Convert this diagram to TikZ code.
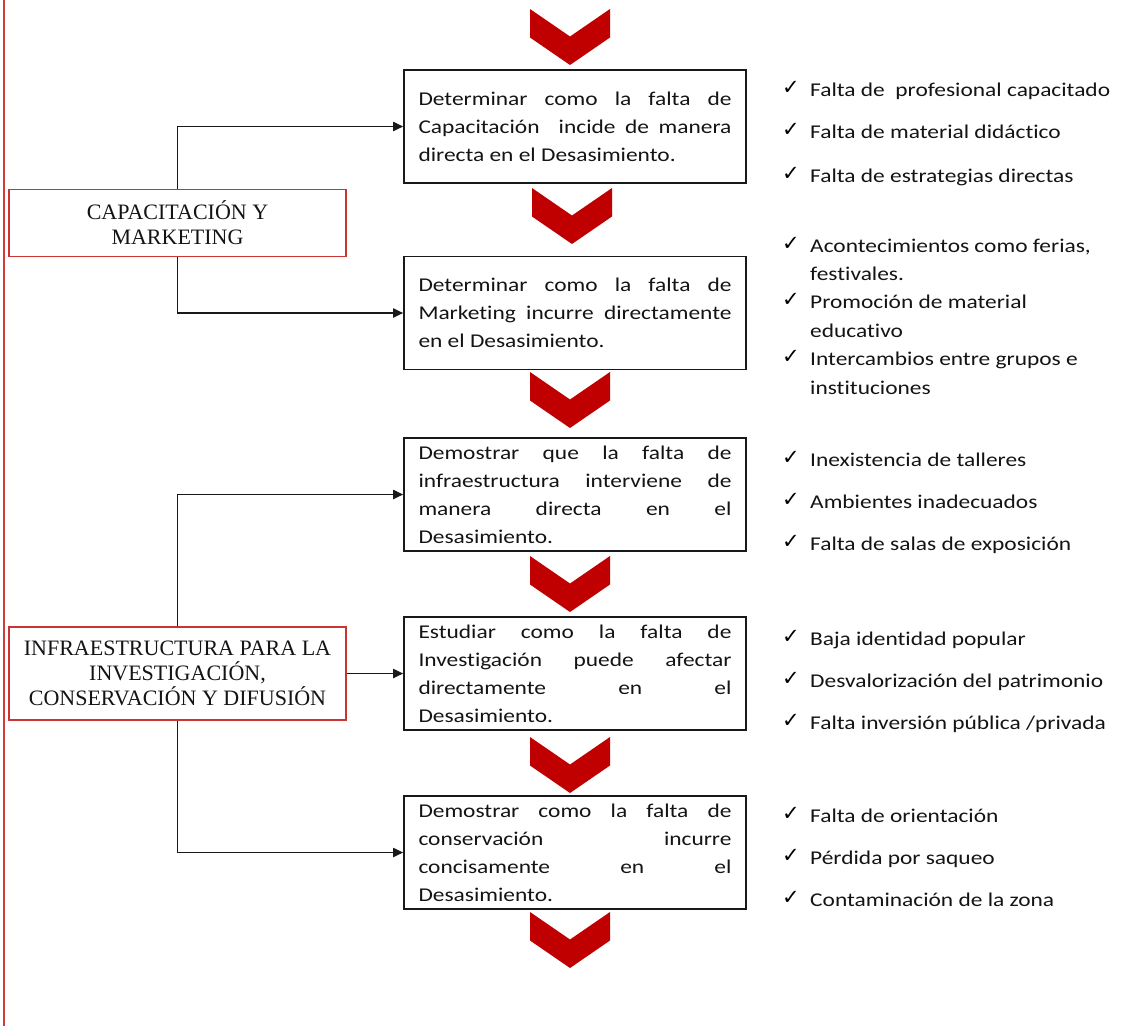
\documentclass[tikz,border=0pt]{standalone}
\usepackage{fontspec}
\usetikzlibrary{arrows.meta}
\newfontfamily\cali{Carlito}[FakeStretch=1.2, Ligatures={NoCommon,NoContextual,NoRare}]
\newfontfamily\tnr{Liberation Serif}
\newfontfamily\dv{DejaVu Sans}
\definecolor{chevred}{RGB}{192,0,0}
\definecolor{boxred}{RGB}{204,51,51}
\definecolor{rulered}{RGB}{210,60,60}
\definecolor{txt}{RGB}{20,20,20}
\tolerance=10000
\hbadness=10000
\hyphenpenalty=10000
\begin{document}
\begin{tikzpicture}[x=1pt,y=-1pt,
  mainbox/.style={draw=black!90, line width=1.6pt, minimum width=342pt, minimum height=113pt,
    inner sep=0pt, text width=313pt, align=justify, text=txt,
    font=\cali\fontsize{19.5}{28}\selectfont},
  catbox/.style={draw=boxred, line width=1.4pt, minimum width=337pt, inner sep=0pt,
    align=center, text=txt, font=\tnr\fontsize{22}{25}\selectfont},
  conn/.style={draw=black!90, line width=1.8pt, -{Triangle[length=10pt,width=9pt]}},
  li/.style={anchor=base west, inner sep=0pt, text=txt, font=\cali\fontsize{19.5}{28}\selectfont},
  ck/.style={anchor=base west, inner sep=0pt, text=black, font=\dv\fontsize{21}{21}\selectfont},
  chev/.pic={\fill[chevred] (-40,0) -- (0,27.5) -- (40,0) -- (40,28.5) -- (0,56) -- (-40,28.5) -- cycle;}
]
\useasboundingbox (0,0) rectangle (1122,1026);
\fill[white] (0,0) rectangle (1122,1026);

% left red rule
\draw[rulered, line width=2.2pt] (4,0) -- (4,1026);

% chevrons
\pic at (570,9) {chev};
\pic at (572,188) {chev};
\pic at (570,372) {chev};
\pic at (570,556) {chev};
\pic at (570,737) {chev};
\pic at (570,912) {chev};

% main boxes
\node[mainbox] (b1) at (575,126.5) {Determinar como la falta de\linebreak Capacitación\ \ incide de manera\linebreak directa en el Desasimiento.};
\node[mainbox] (b2) at (575,313) {Determinar como la falta de\linebreak Marketing incurre directamente\linebreak en el Desasimiento.};
\node[mainbox] (b3) at (575,494.5) {Demostrar que la falta de\linebreak infraestructura interviene de\linebreak manera directa en el\linebreak Desasimiento.};
\node[mainbox] (b4) at (575,673.5) {Estudiar como la falta de\linebreak Investigación puede afectar\linebreak directamente en el\linebreak Desasimiento.};
\node[mainbox] (b5) at (575,852.5) {Demostrar como la falta de\linebreak conservación incurre\linebreak concisamente en el\linebreak Desasimiento.};

% category boxes
\node[catbox, minimum height=67pt] (cap) at (177.5,223) {CAPACITACIÓN Y\\MARKETING};
\node[catbox, minimum height=93pt] (infra) at (177.5,673.5) {INFRAESTRUCTURA PARA LA\\INVESTIGACIÓN,\\CONSERVACIÓN Y DIFUSIÓN};

% connectors
\draw[conn] (cap.north) |- (b1.west);
\draw[conn] (cap.south) |- (b2.west);
\draw[conn] (infra.north) |- (b3.west);
\draw[conn] (infra.east) -- (b4.west);
\draw[conn] (infra.south) |- (b5.west);

% right lists
\node[ck] (c11) at (782,94) {✓}; \node[li] (t11) at (810,96) {Falta de\ \ profesional capacitado};
\node[ck] (c12) at (782,136) {✓}; \node[li] (t12) at (810,138) {Falta de material didáctico};
\node[ck] (c13) at (782,180) {✓}; \node[li] (t13) at (810,182) {Falta de estrategias directas};

\node[ck] (c21) at (782,250) {✓}; \node[li] (t21) at (810,252) {Acontecimientos como ferias,};
\node[li] (t22) at (810,280) {festivales.};
\node[ck] (c23) at (782,306) {✓}; \node[li] (t23) at (810,308) {Promoción de material};
\node[li] (t24) at (810,337) {educativo};
\node[ck] (c25) at (782,363) {✓}; \node[li] (t25) at (810,365) {Intercambios entre grupos e};
\node[li] (t26) at (810,394) {instituciones};

\node[ck] (c31) at (782,464) {✓}; \node[li] (t31) at (810,466) {Inexistencia de talleres};
\node[ck] (c32) at (782,506) {✓}; \node[li] (t32) at (810,508) {Ambientes inadecuados};
\node[ck] (c33) at (782,548) {✓}; \node[li] (t33) at (810,550) {Falta de salas de exposición};

\node[ck] (c41) at (782,643) {✓}; \node[li] (t41) at (810,645) {Baja identidad popular};
\node[ck] (c42) at (782,685) {✓}; \node[li] (t42) at (810,687) {Desvalorización del patrimonio};
\node[ck] (c43) at (782,727) {✓}; \node[li] (t43) at (810,729) {Falta inversión pública /privada};

\node[ck] (c51) at (782,820) {✓}; \node[li] (t51) at (810,822) {Falta de orientación};
\node[ck] (c52) at (782,862) {✓}; \node[li] (t52) at (810,864) {Pérdida por saqueo};
\node[ck] (c53) at (782,904) {✓}; \node[li] (t53) at (810,906) {Contaminación de la zona};
\end{tikzpicture}
\end{document}
